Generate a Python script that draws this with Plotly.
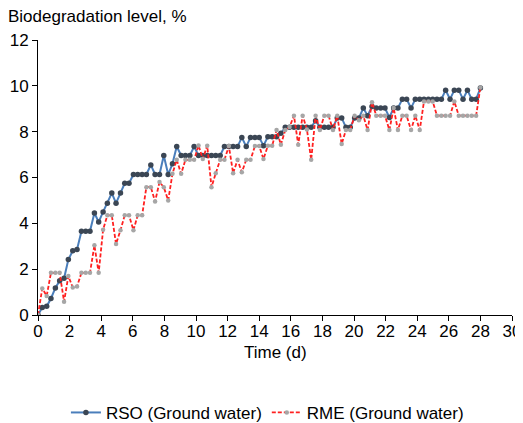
import plotly.graph_objects as go

# sampling times, days
days = [0, 0.27, 0.55, 0.82, 1.10, 1.37, 1.65, 1.92, 2.20, 2.47,
        2.75, 3.02, 3.29, 3.57, 3.84, 4.12, 4.39, 4.67, 4.94, 5.22,
        5.49, 5.76, 6.04, 6.31, 6.59, 6.86, 7.14, 7.41, 7.69, 7.96,
        8.24, 8.51, 8.78, 9.06, 9.33, 9.61, 9.88, 10.16, 10.43, 10.71,
        10.98, 11.25, 11.53, 11.80, 12.08, 12.35, 12.63, 12.90, 13.18, 13.45,
        13.73, 14.00, 14.27, 14.55, 14.82, 15.10, 15.37, 15.65, 15.92, 16.20,
        16.47, 16.75, 17.02, 17.29, 17.57, 17.84, 18.12, 18.39, 18.67, 18.94,
        19.22, 19.49, 19.76, 20.04, 20.31, 20.59, 20.86, 21.14, 21.41, 21.69,
        21.96, 22.24, 22.51, 22.78, 23.06, 23.33, 23.61, 23.88, 24.16, 24.43,
        24.71, 24.98, 25.25, 25.53, 25.80, 26.08, 26.35, 26.63, 26.90, 27.18,
        27.45, 27.73, 28.00]

rso = [0, 0.33, 0.38, 0.72, 1.18, 1.5, 1.6, 2.42, 2.8, 2.86,
       3.65, 3.65, 3.65, 4.45, 4.06, 4.5, 4.88, 5.32, 4.88, 5.32,
       5.75, 5.75, 6.13, 6.13, 6.13, 6.13, 6.55, 6.13, 6.13, 6.96,
       6.13, 6.6, 7.35, 6.96, 6.96, 6.96, 7.35, 6.96, 6.96, 6.96,
       6.96, 6.96, 6.96, 7.35, 7.35, 7.35, 7.35, 7.75, 7.35, 7.75,
       7.75, 7.75, 7.39, 7.78, 7.78, 7.78, 7.93, 8.19, 8.19, 8.19,
       8.19, 8.19, 8.19, 8.19, 8.48, 8.19, 8.19, 8.19, 8.19, 8.6,
       8.6, 8.19, 8.19, 8.6, 8.6, 9.03, 8.7, 9.1, 9.03, 9.03,
       9.03, 8.62, 9.03, 9.03, 9.42, 9.42, 9.03, 9.42, 9.42, 9.42,
       9.42, 9.42, 9.42, 9.42, 9.81, 9.42, 9.81, 9.81, 9.42, 9.81,
       9.42, 9.42, 9.9]

rme = [0, 1.16, 0.83, 1.84, 1.84, 1.84, 0.58, 1.7, 1.2, 1.24,
       1.84, 1.84, 1.84, 3.04, 1.84, 3.72, 4.35, 4.35, 3.1, 3.7,
       4.35, 4.35, 3.7, 4.35, 4.35, 5.58, 5.58, 4.95, 5.8, 5.58,
       5.0, 6.16, 6.77, 6.16, 6.77, 6.77, 6.77, 7.4, 6.81, 7.39,
       5.58, 6.19, 6.77, 6.77, 7.37, 6.19, 6.77, 6.23, 6.77, 6.77,
       7.37, 7.37, 6.81, 7.39, 7.39, 8.07, 7.43, 8.07, 8.2, 8.7,
       7.43, 8.7, 8.1, 6.77, 8.7, 8.07, 8.7, 8.7, 8.07, 8.7,
       7.46, 8.07, 8.07, 8.7, 8.5, 8.7, 8.07, 9.28, 8.7, 8.7,
       8.7, 8.07, 9.03, 8.07, 8.7, 8.7, 8.07, 8.7, 8.07, 9.32,
       9.32, 9.32, 8.7, 8.7, 8.7, 8.7, 9.32, 8.7, 8.7, 8.7,
       8.7, 8.7, 9.93]

x_ticks = list(range(0, 31, 2))
y_ticks = list(range(0, 13, 2))

FONT = "Liberation Sans, Arial, sans-serif"

fig = go.Figure()

fig.add_trace(go.Scatter(
    x=days, y=rso, mode="lines+markers", name="RSO (Ground water)",
    line=dict(color="#4a7ebb", width=2),
    marker=dict(color="#3b4654", size=5.5),
))
fig.add_trace(go.Scatter(
    x=days, y=rme, mode="lines+markers", name="RME (Ground water)",
    line=dict(color="#ff2020", width=1.8, dash="4px,2px"),
    marker=dict(color="#a6a6a6", size=4.5),
))

# the page adds an 8px body margin, so the layout is laid out 8px up/left
fig.update_layout(
    width=523, height=423,
    margin=dict(l=29.5, r=19, t=32, b=116, autoexpand=False),
    paper_bgcolor="white", plot_bgcolor="white",
    font=dict(family=FONT, size=17, color="black"),
    showlegend=True,
    legend=dict(orientation="h", x=0.484, xanchor="center", y=-0.356, yanchor="middle",
                font=dict(size=17), itemwidth=30, tracegroupgap=0),
    xaxis=dict(range=[0, 30], tickvals=x_ticks, showgrid=False, zeroline=False,
               showline=True, linecolor="black", linewidth=1, automargin=False,
               ticks="outside", ticklen=5, tickcolor="black", ticklabelstandoff=-4),
    yaxis=dict(range=[0, 12], tickvals=y_ticks, showgrid=False, zeroline=False,
               showline=True, linecolor="black", linewidth=1, automargin=False,
               ticks="outside", ticklen=5, tickcolor="black"),
)

fig.add_annotation(text="Biodegradation level, %", xref="paper", yref="paper",
                   x=-0.067, y=1.087, xanchor="left", yanchor="middle",
                   showarrow=False, font=dict(size=17))
fig.add_annotation(text="Time (d)", xref="paper", yref="paper",
                   x=0.5, y=-0.138, xanchor="center", yanchor="middle",
                   showarrow=False, font=dict(size=17))

fig.write_html("out.html")
